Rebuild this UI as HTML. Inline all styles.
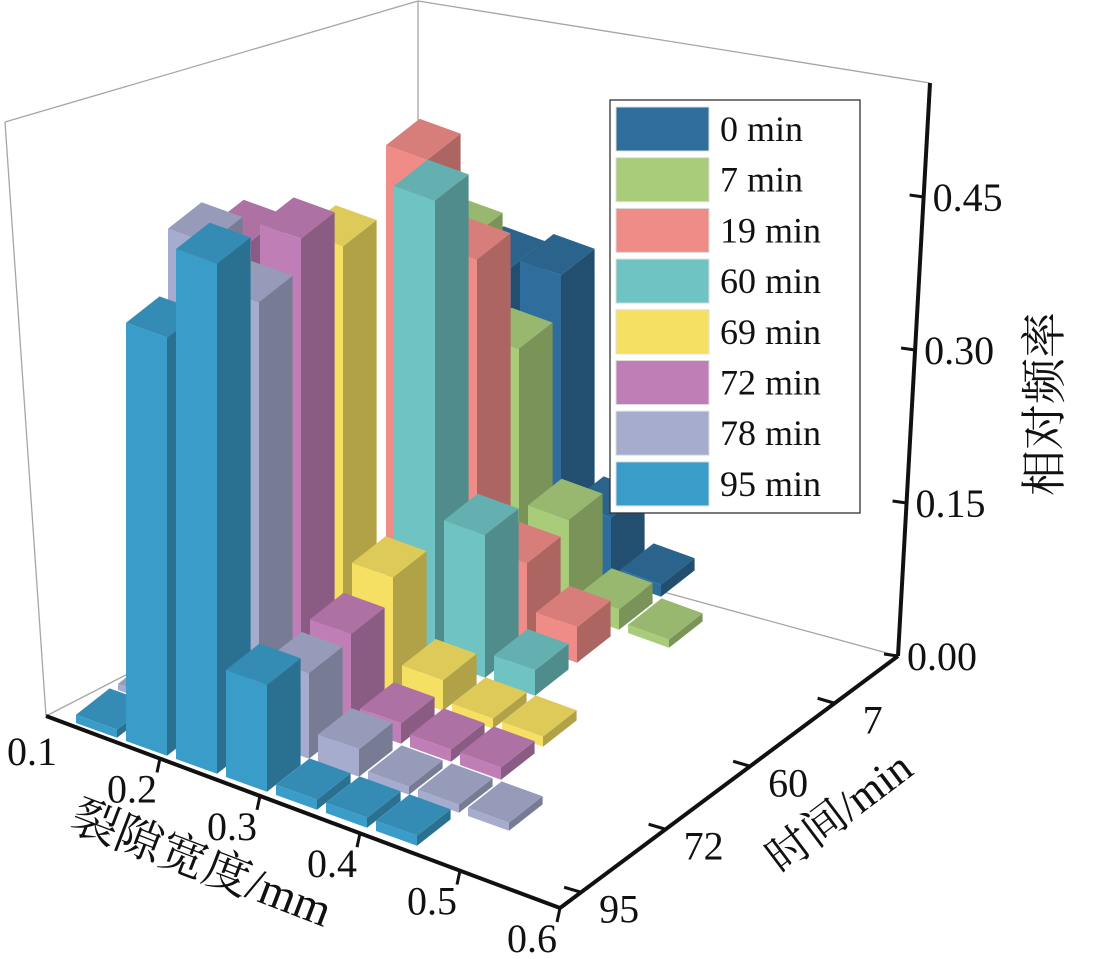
<!DOCTYPE html>
<html><head><meta charset="utf-8">
<style>
html,body{margin:0;padding:0;background:#fff;}
svg{display:block;}
text{font-family:"Liberation Serif","Noto Serif CJK SC",serif;fill:#111;}
</style></head>
<body>
<svg id="chart" width="1095" height="959" viewBox="0 0 1095 959" xmlns="http://www.w3.org/2000/svg">
  <g stroke="#a9a4a4" stroke-width="1.3" fill="none">
    <line x1="5" y1="122" x2="418" y2="1"/>
    <line x1="418" y1="1" x2="930" y2="83"/>
    <line x1="418" y1="1" x2="418" y2="525"/>
    <line x1="5" y1="122" x2="46" y2="716"/>
    <line x1="46" y1="716" x2="418" y2="525"/>
    <line x1="418" y1="525" x2="898" y2="656"/>
  </g>
  <g id="bars"></g>
  <g id="axes"></g>
  <g id="legend"></g>
</svg>
<script>
// ---- data ----
const seriesNames = ["0 min","7 min","19 min","60 min","69 min","72 min","78 min","95 min"];
const seriesColors = ["#2f6e9c","#a9cc7b","#f08c88","#6fc3c3","#f6e063","#c07eb6","#a5acce","#3a9cc9"];
const widthBins = ["0.10","0.15","0.20","0.25","0.30","0.35","0.40","0.45"];
const v0min  = [0,0,0.27,0.28,0.06,0.012,0,0];
const v7min  = [0,0,0.33,0.24,0.09,0.02,0.008,0];
const v19min = [0,0,0.44,0.36,0.08,0.035,0,0];
const v60min = [0,0,0,0.45,0.14,0.025,0,0];
const v69min = [0,0,0.42,0.113,0.03,0.01,0.01,0];
const v72min = [0,0.44,0.46,0.09,0.02,0.012,0.012,0];
const v78min = [0.006,0.47,0.43,0.084,0.027,0.008,0.008,0.008];
const v95min = [0.008,0.41,0.50,0.105,0.01,0.01,0.01,0];
const zTicks = [0,0.15,0.30,0.45];
const zTickLabels = ["0.00","0.15","0.30","0.45"];
const timeTickSeries = [1,3,5,7];
const timeTickLabels = ["7","60","72","95"];
const widthTicks = [0.1,0.2,0.3,0.4,0.5,0.6];
const widthTickLabels = ["0.1","0.2","0.3","0.4","0.5","0.6"];

const allValues = [v0min,v7min,v19min,v60min,v69min,v72min,v78min,v95min];
const NS = "http://www.w3.org/2000/svg";
function mk(tag, attrs, parent){const e=document.createElementNS(NS,tag);for(const k in attrs)e.setAttribute(k,attrs[k]);parent.appendChild(e);return e;}

// ---- axis functions (oblique projection) ----
const X0=76, Y0=723, BX=50, BY=18, SX=42, SY=-33, H=1020;
function projX(s,b){return X0 + BX*b + SX*(7-s);}
function projY(s,b,v){return Y0 + BY*b + SY*(7-s) - v*H;}
function zAxisY(v){return 656 - v*H;}
function zAxisX(y){return 898 + (656-y)*(32/573);}
function shade(hex,f){const n=parseInt(hex.slice(1),16);let r=(n>>16)&255,g=(n>>8)&255,b=n&255;r=Math.round(Math.min(255,r*f));g=Math.round(Math.min(255,g*f));b=Math.round(Math.min(255,b*f));return `rgb(${r},${g},${b})`;}

// ---- bars ----
const barsG=document.getElementById('bars');
const items=[];
for(let s=0;s<allValues.length;s++){for(let b=0;b<widthBins.length;b++){const v=allValues[s][b];if(v>0)items.push({s,b,v});}}
items.sort((a,c)=>(BY*a.b + SY*(7-a.s)) - (BY*c.b + SY*(7-c.s)));
const ux=BX*0.82, uy=BY*0.82, vx=SX*0.8, vy=SY*0.8;
items.forEach(it=>{
  const x=projX(it.s,it.b), y=projY(it.s,it.b,0), h=y-projY(it.s,it.b,it.v);
  const col=seriesColors[it.s];
  const g=mk('g',{},barsG);
  
  
  const P=(a,b)=>a.toFixed(1)+','+b.toFixed(1);
  mk('polygon',{points:[P(x,y),P(x+ux,y+uy),P(x+ux,y+uy-h),P(x,y-h)].join(' '),fill:col},g);
  mk('polygon',{points:[P(x+ux,y+uy),P(x+ux+vx,y+uy+vy),P(x+ux+vx,y+uy+vy-h),P(x+ux,y+uy-h)].join(' '),fill:shade(col,0.72)},g);
  mk('polygon',{points:[P(x,y-h),P(x+ux,y+uy-h),P(x+ux+vx,y+uy+vy-h),P(x+vx,y+vy-h)].join(' '),fill:shade(col,0.9)},g);
});

// ---- axes ----
const ax=document.getElementById('axes');
const zl=mk('line',{x1:898,y1:656,x2:930,y2:83,stroke:'#111','stroke-width':4},ax);


zTicks.forEach((t,i)=>{
  const y=zAxisY(t), x=zAxisX(y);
  const tl=mk('line',{x1:x-14,y1:y-2,x2:x,y2:y,stroke:'#111','stroke-width':3},ax);
  
  
  const tx=mk('text',{x:x+9,y:y+14,'font-size':40},ax);
  tx.textContent=zTickLabels[i];
  
  
});
const zt=mk('text',{x:0,y:0,'font-size':46,transform:'translate(1060,404) rotate(-90)','text-anchor':'middle'},ax);
zt.textContent='相对频率';


// time axis
const tline=mk('line',{x1:898,y1:656,x2:560,y2:908,stroke:'#111','stroke-width':4},ax);


timeTickSeries.forEach((s,i)=>{
  const f=(s+0.5)/8;
  const x=898-338*f, y=656+252*f;
  const tk=mk('line',{x1:x,y1:y,x2:x-17,y2:y-5,stroke:'#111','stroke-width':3},ax);
  
  
  const tx=mk('text',{x:x+38,y:y+30,'font-size':40,'text-anchor':'middle'},ax);
  tx.textContent=timeTickLabels[i];
  
  
});
const tt=mk('text',{x:0,y:0,'font-size':44,transform:'translate(848,824) rotate(-37)','text-anchor':'middle'},ax);
tt.textContent='时间/min';


// width axis
const wl=mk('line',{x1:46,y1:716,x2:560,y2:908,stroke:'#111','stroke-width':4},ax);


widthTicks.forEach((w,i)=>{
  const f=(w-0.1)/0.5;
  const x=60+500*f, y=721+187*f;
  if(i>0){
    const tk=mk('line',{x1:x,y1:y,x2:x-3,y2:y+14,stroke:'#111','stroke-width':3},ax);
    
    
  }
  const tx=mk('text',{x:x-28,y:y+44,'font-size':40,'text-anchor':'middle'},ax);
  tx.textContent=widthTickLabels[i];
  
  
});
const wt=mk('text',{x:0,y:0,'font-size':47,transform:'translate(196,878) rotate(21)','text-anchor':'middle'},ax);
wt.textContent='裂隙宽度/mm';



// ---- legend ----
const lg=document.getElementById('legend');
const lb=mk('rect',{x:610,y:100,width:250,height:413,fill:'#fff',stroke:'#333','stroke-width':1.3},lg);


seriesNames.forEach((n,i)=>{
  const y=107+i*50.7;
  const g=mk('g',{},lg);
  
  
  mk('rect',{x:616,y:y,width:93,height:44,fill:seriesColors[i],stroke:'#ddd','stroke-width':1},g);
  const t=mk('text',{x:720,y:y+34,'font-size':36},g);
  t.textContent=n;
});
</script>
</body></html>
